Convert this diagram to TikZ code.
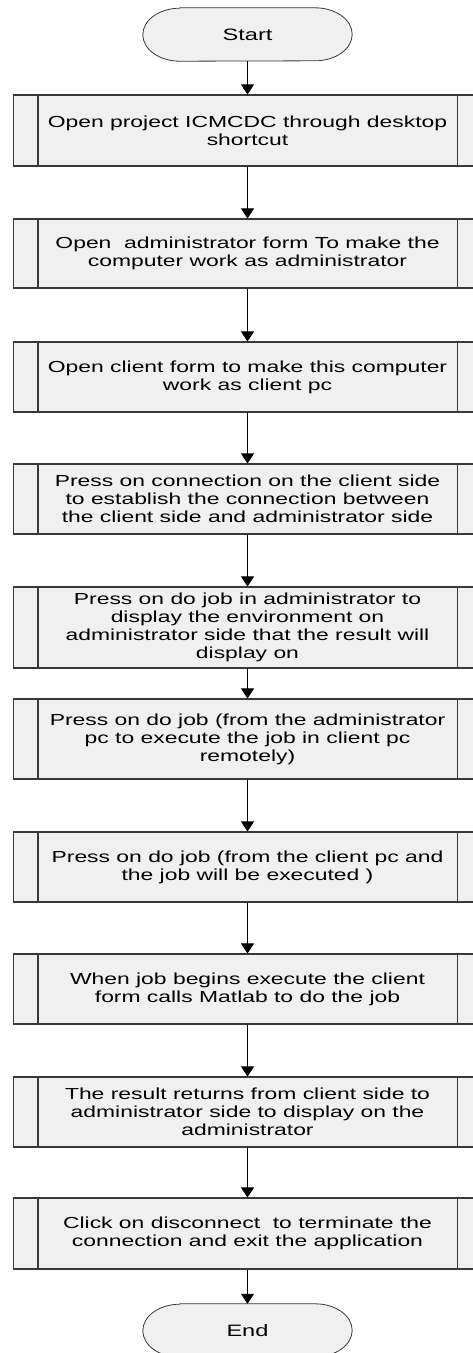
\documentclass[tikz,border=0pt]{standalone}
\usepackage{fontspec}
\setmainfont{Liberation Sans}[FakeStretch=1.43]
\usetikzlibrary{arrows.meta}
\definecolor{boxfill}{HTML}{F0F0F0}
\definecolor{boxline}{HTML}{383838}
\tikzset{
  procbox/.style={draw=boxline, line width=1.1pt, fill=boxfill, rectangle,
    minimum width=468pt, inner sep=0pt, align=center,
    font=\fontsize{16}{18}\selectfont},
  termnode/.style={rectangle, minimum width=209pt, minimum height=53pt,
    inner sep=0pt, font=\fontsize{16.5}{18}\selectfont},
  termline/.style={draw=boxline, line width=0.8pt, fill=boxfill},
  flow/.style={draw=black, line width=0.8pt,
    -{Triangle[width=13pt,length=10pt]}},
}
% terminal outline with elliptical ends around a named node
\newcommand\terminalframe[1]{%
  \path[termline]
    ([xshift=37pt]#1.north west) -- ([xshift=-37pt]#1.north east)
    arc[start angle=90, end angle=-90, x radius=37pt, y radius=26.5pt]
    -- ([xshift=37pt]#1.south west)
    arc[start angle=270, end angle=90, x radius=37pt, y radius=26.5pt]
    -- cycle;}
\begin{document}
\begin{tikzpicture}[x=1pt, y=-1pt]
\useasboundingbox (0,0) rectangle (473,1353);
\clip (0,0) rectangle (473,1353);

\node[termnode] (st) at (247.5,34.5) {};
\terminalframe{st}
\node[termnode] at (st) {Start};

\node[procbox, minimum height=71pt] (b1) at (247.5,130.5)
  {Open project ICMCDC through desktop\\shortcut};
\node[procbox, minimum height=69pt] (b2) at (247.5,253.5)
  {Open\ \ administrator form To make the\\computer work as administrator};
\node[procbox, minimum height=70pt] (b3) at (247.5,377)
  {Open client form to make this computer\\work as client pc};
\node[procbox, minimum height=70pt] (b4) at (247.5,499)
  {Press on connection on the client side\\to establish the connection between\\the client side and administrator side};
\node[procbox, minimum height=81pt] (b5) at (247.5,627.5)
  {Press on do job in administrator to\\display the environment on\\administrator side that the result will\\display on};
\node[procbox, minimum height=80pt] (b6) at (247.5,739)
  {Press on do job (from the administrator\\pc to execute the job in client pc\\remotely)};
\node[procbox, minimum height=70pt] (b7) at (247.5,867)
  {Press on do job (from the client pc and\\the job will be executed )};
\node[procbox, minimum height=70pt] (b8) at (247.5,989)
  {When job begins execute the client\\form calls Matlab to do the job};
\node[procbox, minimum height=70pt] (b9) at (247.5,1112)
  {The result returns from client side to\\administrator side to display on the\\administrator};
\node[procbox, minimum height=71pt] (b10) at (247.5,1233.5)
  {Click on disconnect\ \ to terminate the\\connection and exit the application};

\node[termnode] (en) at (247.5,1330.5) {};
\terminalframe{en}
\node[termnode] at (en) {End};

% inner side bars of the predefined-process boxes
\foreach \b in {b1,b2,b3,b4,b5,b6,b7,b8,b9,b10}{
  \draw[boxline, line width=1.1pt] ([xshift=25pt]\b.north west) -- ([xshift=25pt]\b.south west);
  \draw[boxline, line width=1.1pt] ([xshift=-25pt]\b.north east) -- ([xshift=-25pt]\b.south east);
}

% connectors
\draw[flow] (st) -- (b1);
\draw[flow] (b1) -- (b2);
\draw[flow] (b2) -- (b3);
\draw[flow] (b3) -- (b4);
\draw[flow] (b4) -- (b5);
\draw[flow] (b5) -- (b6);
\draw[flow] (b6) -- (b7);
\draw[flow] (b7) -- (b8);
\draw[flow] (b8) -- (b9);
\draw[flow] (b9) -- (b10);
\draw[flow] (b10) -- (en);
\end{tikzpicture}
\end{document}
